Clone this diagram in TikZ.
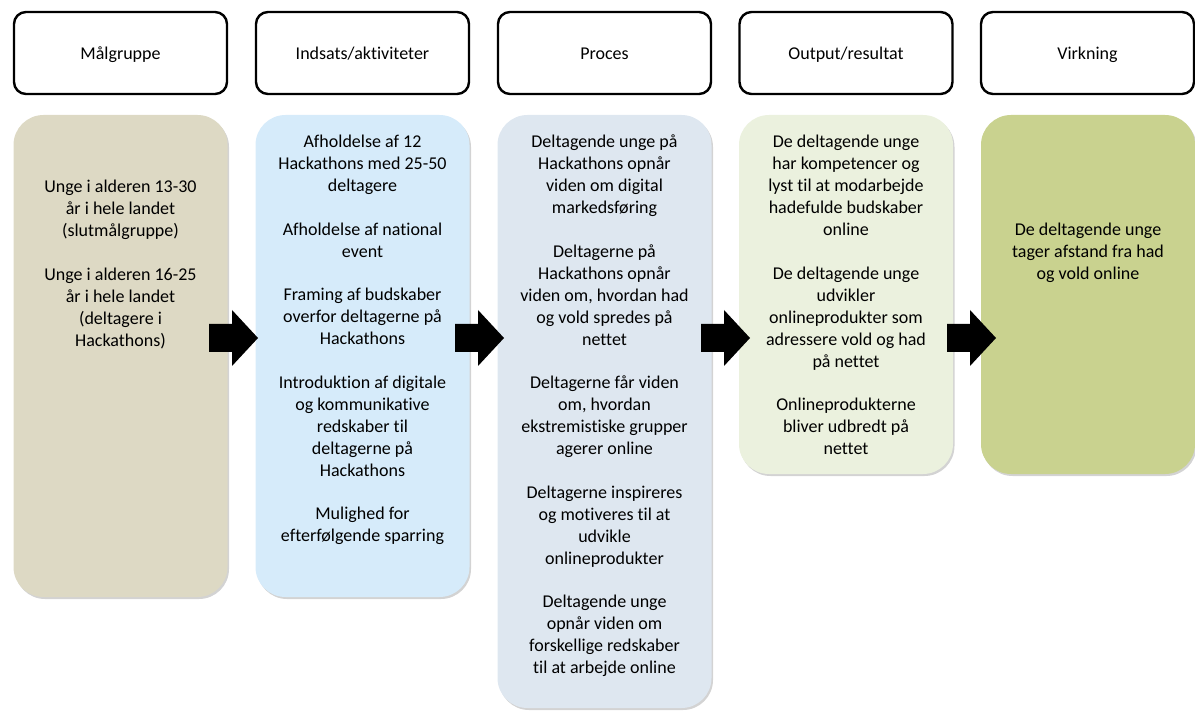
\documentclass[tikz,border=0pt]{standalone}
\usepackage{fontspec}
\setmainfont{Carlito}[Ligatures=NoCommon]
\usetikzlibrary{shadows}
\definecolor{cA}{HTML}{DDD9C4}
\definecolor{cB}{HTML}{D6EBFA}
\definecolor{cC}{HTML}{DEE7F0}
\definecolor{cD}{HTML}{EBF1DE}
\definecolor{cE}{HTML}{C9D28F}
\tikzset{
  hdr/.style={draw=black, line width=2.4pt, rounded corners=12pt, fill=white,
    minimum width=213pt, minimum height=82pt, inner sep=0pt,
    text height=15pt, text depth=1pt,
    font=\fontsize{18}{22}\selectfont},
  cbox/.style={rounded corners=30pt, minimum width=214pt, inner sep=0pt,
    drop shadow={opacity=0.35, shadow xshift=1.5pt, shadow yshift=-2pt}},
  txt/.style={anchor=north, align=center, inner sep=0pt,
    font=\fontsize{18}{22}\selectfont},
  blk/.style={fill=black, draw=none}
}
\newcommand{\gap}{\\[21.5pt]}
\begin{document}
\begin{tikzpicture}[x=1pt,y=-1pt]
\useasboundingbox (0,0) rectangle (1195,711);
% headers
\node[hdr] (h1) at (120.5,53) {Målgruppe};
\node[hdr] (h2) at (362.5,53) {Indsats/aktiviteter};
\node[hdr] (h3) at (604.5,53) {Proces};
\node[hdr] (h4) at (846,53) {Output/resultat};
\node[hdr] (h5) at (1087.5,53) {Virkning};
% colored boxes
\node[cbox, fill=cA, minimum height=482pt] (b1) at (120.5,356) {};
\node[cbox, fill=cB, minimum height=482pt] (b2) at (362.5,356) {};
\node[cbox, fill=cC, minimum height=593pt] (b3) at (604.5,411.5) {};
\node[cbox, fill=cD, minimum height=359pt] (b4) at (846,294.5) {};
\node[cbox, fill=cE, minimum height=359pt] (b5) at (1088,294.5) {};
% texts
\node[txt] (t1) at (120.5,177.2) {\strut Unge i alderen 13-30\\år i hele landet\\(slutmålgruppe)\gap
Unge i alderen 16-25\\år i hele landet\\(deltagere i\\Hackathons)};
\node[txt] (t2) at (362.5,132.2) {\strut Afholdelse af 12\\Hackathons med 25-50\\deltagere\gap
Afholdelse af national\\event\gap
Framing af budskaber\\overfor deltagerne på\\Hackathons\gap
Introduktion af digitale\\og kommunikative\\redskaber til\\deltagerne på\\Hackathons\gap
Mulighed for\\efterfølgende sparring};
\node[txt] (t3) at (604.5,132.2) {\strut Deltagende unge på\\Hackathons opnår\\viden om digital\\markedsføring\gap
Deltagerne på\\Hackathons opnår\\viden om, hvordan had\\og vold spredes på\\nettet\gap
Deltagerne får viden\\om, hvordan\\ekstremistiske grupper\\agerer online\gap
Deltagerne inspireres\\og motiveres til at\\udvikle\\onlineprodukter\gap
Deltagende unge\\opnår viden om\\forskellige redskaber\\til at arbejde online};
\node[txt] (t4) at (846,132.2) {\strut De deltagende unge\\har kompetencer og\\lyst til at modarbejde\\hadefulde budskaber\\online\gap
De deltagende unge\\udvikler\\onlineprodukter som\\adressere vold og had\\på nettet\gap
Onlineprodukterne\\bliver udbredt på\\nettet};
\node[txt] (t5) at (1088,220.2) {\strut De deltagende unge\\tager afstand fra had\\og vold online};
% block arrows
\foreach \x/\n in {209/1,455/2,701/3,947/4}{
  \coordinate (a\n) at (\x,338);
  \fill[blk] ([shift={(0,-14)}]a\n) -- ++(23,0) -- ++(0,-14) -- ++(26,28) -- ++(-26,28) -- ++(0,-14) -- ++(-23,0) -- cycle;
}
\end{tikzpicture}
\end{document}
